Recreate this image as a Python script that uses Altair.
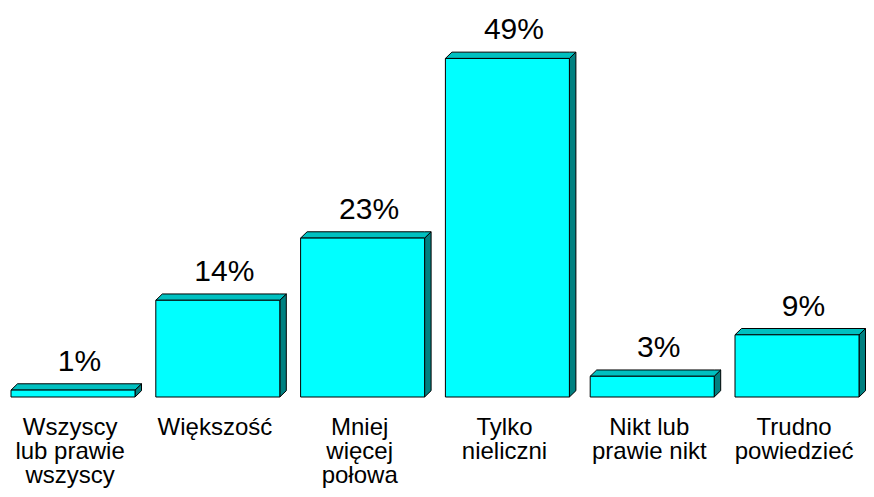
import altair as alt
import pandas as pd

categories = [
    "Wszyscy\nlub prawie\nwszyscy",
    "Większość",
    "Mniej\nwięcej\npołowa",
    "Tylko\nnieliczni",
    "Nikt lub\nprawie nikt",
    "Trudno\npowiedzieć",
]
values = [1, 14, 23, 49, 3, 9]
value_labels = [f"{v}%" for v in values]

# layout constants
W, H = 858, 389
STEP_PX = 144.8
X_MAX = W / STEP_PX
Y_MAX = 56.3
BAR_START = 3 / STEP_PX
BAR_W = 124 / STEP_PX
DX = 6.5 / STEP_PX          # depth in x units
DY = 6.3 / (H / Y_MAX)      # depth in y units

front_rows, side_rows, top_rows, lab_rows = [], [], [], []
for i, (c, v, t) in enumerate(zip(categories, values, value_labels)):
    L = i + BAR_START
    R = L + BAR_W
    front_rows.append({"bar": i, "L": L, "R": R, "v": v, "base": 0})
    side_rows += [
        {"bar": i, "x": R, "lo": 0, "hi": v},
        {"bar": i, "x": R + DX, "lo": DY, "hi": v + DY},
    ]
    top_rows += [
        {"bar": i, "x": L, "lo": v, "hi": v},
        {"bar": i, "x": L + DX, "lo": v, "hi": v + DY},
        {"bar": i, "x": R, "lo": v, "hi": v + DY},
        {"bar": i, "x": R + DX, "lo": v + DY, "hi": v + DY},
    ]
    lab_rows.append({"bar": i, "cx": (L + R) / 2, "v": v, "txt": t, "cat": c, "base": 0})

front = pd.DataFrame(front_rows)
side = pd.DataFrame(side_rows)
top = pd.DataFrame(top_rows)
labs = pd.DataFrame(lab_rows)

xs = alt.Scale(domain=[0, X_MAX], nice=False, zero=False)
ys = alt.Scale(domain=[0, Y_MAX], nice=False)

side_layer = alt.Chart(side).mark_area(
    fill="#008080", stroke="black", strokeWidth=1, interpolate="linear"
).encode(
    x=alt.X("x:Q", scale=xs, axis=None),
    y=alt.Y("hi:Q", scale=ys, axis=None, stack=False),
    y2="lo:Q",
    detail="bar:N",
)

top_layer = alt.Chart(top).mark_area(
    fill="#00C0C0", stroke="black", strokeWidth=1, interpolate="linear"
).encode(
    x=alt.X("x:Q", scale=xs, axis=None),
    y=alt.Y("hi:Q", scale=ys, axis=None, stack=False),
    y2="lo:Q",
    detail="bar:N",
)

front_layer = alt.Chart(front).mark_rect(
    fill="#00FFFF", stroke="black", strokeWidth=1
).encode(
    x=alt.X("L:Q", scale=xs, axis=None),
    x2="R:Q",
    y=alt.Y("v:Q", scale=ys, axis=None),
    y2="base:Q",
)

value_text = alt.Chart(labs).transform_calculate(
    lx=f"datum.cx + {DX}"
).mark_text(
    font="Liberation Sans", fontSize=30, baseline="alphabetic", align="center",
    dy=-19, color="black"
).encode(
    x=alt.X("lx:Q", scale=xs, axis=None),
    y=alt.Y("v:Q", scale=ys, axis=None),
    text="txt:N",
)

cat_text = alt.Chart(labs).transform_calculate(
    lx="datum.cx - 0.02"
).mark_text(
    font="Liberation Sans", fontSize=24, baseline="alphabetic", align="center",
    dy=38, lineBreak="\n", lineHeight=24, color="black"
).encode(
    x=alt.X("lx:Q", scale=xs, axis=None),
    y=alt.Y("base:Q", scale=ys, axis=None),
    text="cat:N",
)

chart = alt.layer(side_layer, top_layer, front_layer, value_text, cat_text).properties(
    width=W, height=H,
    background="white",
    autosize=alt.AutoSizeParams(type="none"),
    padding={"left": 0, "top": 0, "right": 0, "bottom": 92},
).configure_view(stroke="transparent", strokeWidth=0)

chart.save("out.html", embed_options={"renderer": "svg", "actions": False})
